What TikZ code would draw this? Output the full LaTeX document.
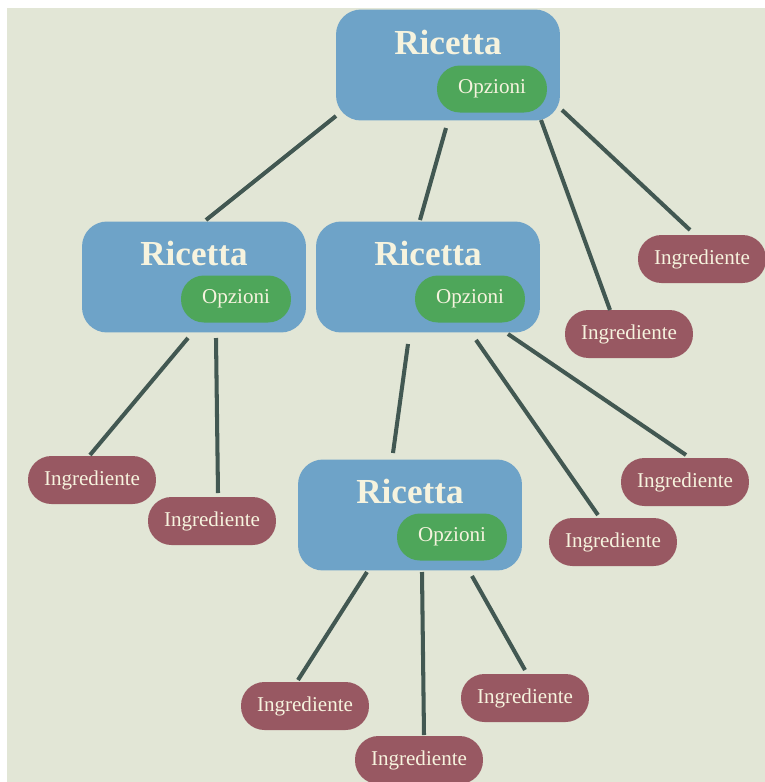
\documentclass[tikz,border=0pt]{standalone}
\usepackage{fontspec}
\setmainfont{Liberation Serif}
\usepackage{xcolor}
\usepackage{tikz}
\usetikzlibrary{positioning}

\definecolor{sfondo}{RGB}{226,230,214}
\definecolor{blu}{RGB}{110,163,200}
\definecolor{verde}{RGB}{78,166,90}
\definecolor{bordeaux}{RGB}{152,88,98}
\definecolor{linea}{RGB}{66,88,82}
\definecolor{crema}{RGB}{246,243,222}

\begin{document}
\begin{tikzpicture}[x=0.02cm, y=-0.02cm,
    ricetta/.style={fill=blu, rounded corners=0.5cm, minimum width=4.48cm, minimum height=2.22cm},
    titolo/.style={text=crema, font=\bfseries\fontsize{20}{22}\selectfont},
    opzioni/.style={fill=verde, text=crema, rounded corners=0.46cm, minimum width=2.2cm, minimum height=0.94cm, font=\fontsize{12}{14}\selectfont},
    ingrediente/.style={fill=bordeaux, text=crema, rounded corners=0.47cm, minimum width=2.56cm, minimum height=0.96cm, font=\fontsize{12}{14}\selectfont},
    ramo/.style={draw=linea, line width=2.3pt}]
            \useasboundingbox (0,0) rectangle (765,782);
            \fill[white] (0,0) rectangle (765,782);
            \fill[sfondo] (7,8) rectangle (765,782);
            % ricette
            \node[ricetta] (r1) at (448,65) {};
            \node[titolo, shift={(0,-23)}] (t1) at (r1) {Ricetta};
            \node[opzioni, shift={(44,24)}] (o1) at (r1) {Opzioni};
            \node[ricetta] (r2) at (194,277) {};
            \node[titolo, shift={(0,-24)}] (t2) at (r2) {Ricetta};
            \node[opzioni, shift={(42,22)}] (o2) at (r2) {Opzioni};
            \node[ricetta] (r3) at (428,277) {};
            \node[titolo, shift={(0,-24)}] (t3) at (r3) {Ricetta};
            \node[opzioni, shift={(42,22)}] (o3) at (r3) {Opzioni};
            \node[ricetta] (r4) at (410,515) {};
            \node[titolo, shift={(0,-24)}] (t4) at (r4) {Ricetta};
            \node[opzioni, shift={(42,22)}] (o4) at (r4) {Opzioni};
            % ingredienti
            \node[ingrediente] (i1) at (702,259) {Ingrediente};
            \node[ingrediente] (i2) at (629,334) {Ingrediente};
            \node[ingrediente] (i3) at (92,480) {Ingrediente};
            \node[ingrediente] (i4) at (212,521) {Ingrediente};
            \node[ingrediente] (i5) at (685,482) {Ingrediente};
            \node[ingrediente] (i6) at (613,542) {Ingrediente};
            \node[ingrediente] (i7) at (305,706) {Ingrediente};
            \node[ingrediente] (i8) at (525,698) {Ingrediente};
            \node[ingrediente] (i9) at (419,760) {Ingrediente};
            % rami
            \draw[ramo] ([shift={(-112,51)}]r1.center) -- ([shift={(12,-57)}]r2.center);
            \draw[ramo] ([shift={(-2,63)}]r1.center) -- ([shift={(-8,-57)}]r3.center);
            \draw[ramo] ([shift={(93,55)}]r1.center) -- ([shift={(-19,-24)}]i2.center);
            \draw[ramo] ([shift={(114,45)}]r1.center) -- ([shift={(-12,-29)}]i1.center);
            \draw[ramo] ([shift={(-6,61)}]r2.center) -- ([shift={(-2,-25)}]i3.center);
            \draw[ramo] ([shift={(22,61)}]r2.center) -- ([shift={(6,-28)}]i4.center);
            \draw[ramo] ([shift={(-20,67)}]r3.center) -- ([shift={(-17,-62)}]r4.center);
            \draw[ramo] ([shift={(48,63)}]r3.center) -- ([shift={(-15,-27)}]i6.center);
            \draw[ramo] ([shift={(80,57)}]r3.center) -- ([shift={(1,-27)}]i5.center);
            \draw[ramo] ([shift={(-43,57)}]r4.center) -- ([shift={(-7,-26)}]i7.center);
            \draw[ramo] ([shift={(12,57)}]r4.center) -- ([shift={(5,-25)}]i9.center);
            \draw[ramo] ([shift={(62,61)}]r4.center) -- ([shift={(0,-28)}]i8.center);
          \end{tikzpicture}
\end{document}
